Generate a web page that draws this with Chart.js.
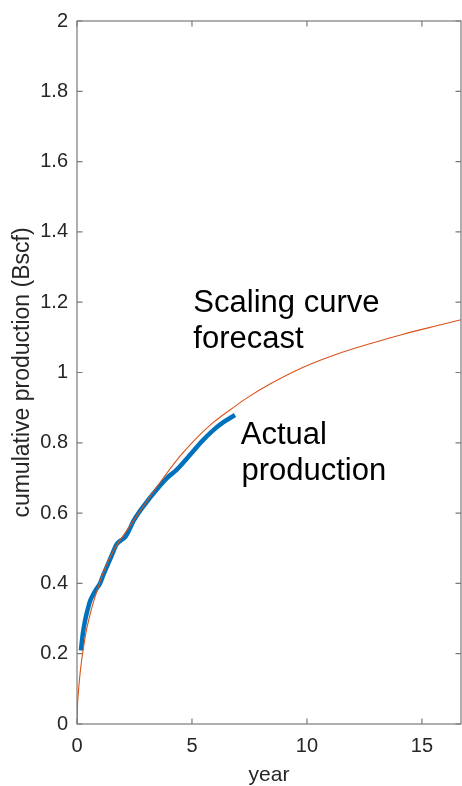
<!DOCTYPE html>
<html><head><meta charset="utf-8">
<script src="https://cdn.jsdelivr.net/npm/chart.js@4.4.1/dist/chart.umd.min.js"></script>
<style>html,body{margin:0;padding:0;background:#fff;}#wrap{width:462px;height:786px;}</style>
</head><body><div id="wrap"><canvas id="c" width="462" height="786"></canvas></div>
<script>
// ---- data ----
const forecastYears  = [0, 0.02, 0.06, 0.12, 0.2, 0.3, 0.42, 0.6, 0.78, 1.14, 1.6, 2.16, 3.0, 3.61, 4.48, 5.0, 5.93, 6.9, 7.38, 8.39, 9.84, 11.29, 12.74, 14.19, 15.64, 16.7];
const forecastValues = [0, 0.05, 0.09, 0.135, 0.18, 0.225, 0.27, 0.32, 0.36, 0.43, 0.495, 0.55, 0.63, 0.687, 0.762, 0.80, 0.858, 0.905, 0.927, 0.967, 1.015, 1.052, 1.082, 1.109, 1.133, 1.15];
const actualYears  = [0.17, 0.25, 0.35, 0.45, 0.57, 0.71, 0.85, 1.0, 1.15, 1.3, 1.5, 1.72, 1.9, 2.1, 2.3, 2.45, 3.17, 3.9, 4.33, 4.91, 5.4, 5.93, 6.4, 6.87];
const actualValues = [0.209, 0.255, 0.294, 0.322, 0.35, 0.369, 0.385, 0.40, 0.425, 0.448, 0.478, 0.511, 0.522, 0.532, 0.556, 0.577, 0.643, 0.699, 0.723, 0.765, 0.802, 0.836, 0.86, 0.879];
const xTickValues = [0, 5, 10, 15];
const yTickValues = [0, 0.2, 0.4, 0.6, 0.8, 1, 1.2, 1.4, 1.6, 1.8, 2];
const xTitle = 'year';
const yTitle = 'cumulative production (Bscf)';
const forecastLabel = ['Scaling curve', 'forecast'];
const actualLabel = ['Actual', 'production'];

const FONT = "'Liberation Sans', Arial, Helvetica, sans-serif";
const AXIS_COLOR = '#7a7a7a';
const TEXT_COLOR = '#262626';

const toXY = (xs, ys) => xs.map((x, i) => ({x, y: ys[i]}));

const boxPlugin = {
  id: 'boxAndTicks',
  afterDraw(chart) {
    const {ctx, chartArea: a, scales: {x, y}} = chart;
    ctx.save();
    ctx.strokeStyle = AXIS_COLOR;
    ctx.lineWidth = 1.2;
    ctx.strokeRect(a.left, a.top, a.right - a.left, a.bottom - a.top);
    const L = 5.5;
    ctx.beginPath();
    xTickValues.forEach(v => {
      const px = x.getPixelForValue(v);
      ctx.moveTo(px, a.bottom); ctx.lineTo(px, a.bottom - L);
      ctx.moveTo(px, a.top); ctx.lineTo(px, a.top + L);
    });
    yTickValues.forEach(v => {
      const py = y.getPixelForValue(v);
      ctx.moveTo(a.left, py); ctx.lineTo(a.left + L, py);
      ctx.moveTo(a.right, py); ctx.lineTo(a.right - L, py);
    });
    ctx.stroke();
    // annotations
    ctx.fillStyle = '#000';
    ctx.font = '31px ' + FONT;
    ctx.textBaseline = 'alphabetic';
    ctx.textAlign = 'left';
    ctx.fillText(forecastLabel[0], x.getPixelForValue(5.06), y.getPixelForValue(1.172));
    ctx.fillText(forecastLabel[1], x.getPixelForValue(5.06), y.getPixelForValue(1.069));
    ctx.fillText(actualLabel[0], x.getPixelForValue(7.12), y.getPixelForValue(0.798));
    ctx.fillText(actualLabel[1], x.getPixelForValue(7.15), y.getPixelForValue(0.695));
    ctx.restore();
  }
};

new Chart(document.getElementById('c'), {
  type: 'line',
  data: {
    datasets: [
      {
        label: 'Scaling curve forecast',
        data: toXY(forecastYears, forecastValues),
        borderColor: '#D95319',
        borderWidth: 1.1,
        pointRadius: 0,
        cubicInterpolationMode: 'monotone',
        fill: false,
        order: 0
      },
      {
        label: 'Actual production',
        data: toXY(actualYears, actualValues),
        borderColor: '#0072BD',
        borderWidth: 4.5,
        pointRadius: 0,
        cubicInterpolationMode: 'monotone',
        fill: false,
        order: 1
      }
    ]
  },
  options: {
    responsive: false,
    animation: false,
    devicePixelRatio: 1,
    layout: {padding: {left: 0, right: 1, top: 16.5, bottom: 0}},
    plugins: {legend: {display: false}, tooltip: {enabled: false}},
    scales: {
      x: {
        type: 'linear',
        min: 0, max: 16.7,
        grid: {display: false, drawTicks: false},
        border: {display: false},
        afterBuildTicks: s => { s.ticks = xTickValues.map(v => ({value: v})); },
        afterFit: s => { s.height = 62; },
        ticks: {
          font: {family: FONT, size: 20},
          color: TEXT_COLOR,
          padding: 10,
          maxRotation: 0,
          callback: v => String(v)
        },
        title: {
          display: true, text: xTitle,
          font: {family: FONT, size: 21, lineHeight: 1},
          color: TEXT_COLOR,
          padding: {top: 0, bottom: 0}
        }
      },
      y: {
        type: 'linear',
        min: 0, max: 2,
        grid: {display: false, drawTicks: false},
        border: {display: false},
        afterBuildTicks: s => { s.ticks = yTickValues.map(v => ({value: v})); },
        afterFit: s => { s.width = 77; },
        ticks: {
          font: {family: FONT, size: 20},
          color: TEXT_COLOR,
          padding: 9,
          callback: v => String(+v.toFixed(1))
        },
        title: {
          display: true, text: yTitle,
          font: {family: FONT, size: 23, lineHeight: 1.2},
          color: TEXT_COLOR,
          padding: {top: 9, bottom: 0}
        }
      }
    }
  },
  plugins: [boxPlugin]
});
</script>
</body></html>
